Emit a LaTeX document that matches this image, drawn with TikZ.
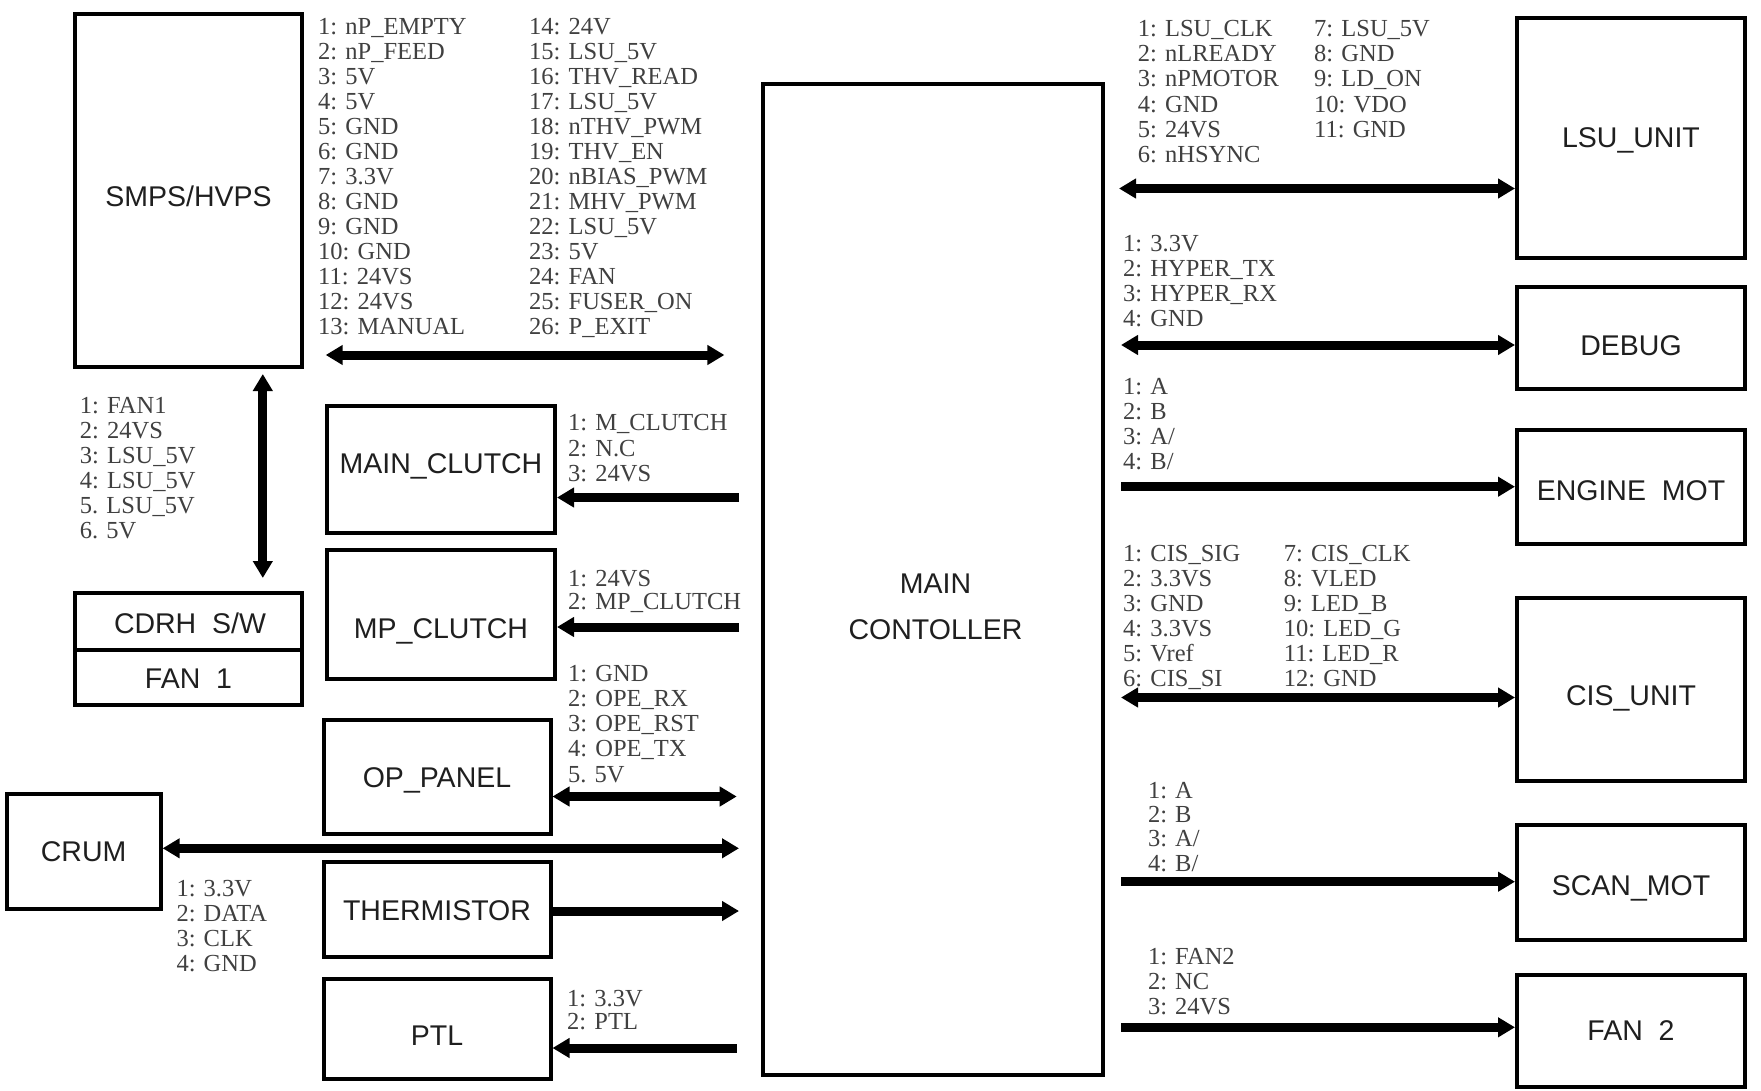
\documentclass[tikz,border=0pt]{standalone}
\usepackage{fontspec}
\setmainfont{Liberation Sans}
\newfontfamily\pinfont{Liberation Serif}
\usetikzlibrary{arrows.meta}
\tikzset{
  blk/.style={draw, line width=4pt, inner sep=0pt},
  lbl/.style={inner sep=0pt, font=\fontsize{28.5}{34}\selectfont, text=black!88, text height=20.5pt, text depth=0pt},
  pin/.style={anchor=west, inner sep=0pt, font=\pinfont\fontsize{24.5}{25}\selectfont, text=black!75, text height=16pt, text depth=0pt},
  bus/.style={line width=9pt},
  >={Triangle[length=17pt,width=19pt]},
}
\newcommand\pinlist[5]{\foreach \t [count=\i from 0] in {#5}{\node[pin] (#1\i) at (#2,{#3+#4*\i}) {\t};}}
\begin{document}
\begin{tikzpicture}[x=1pt,y=-1pt]
\fill[white] (0,0) rectangle (1761,1091);
\useasboundingbox (0,0) rectangle (1761,1091);

% ---------- boxes ----------
\node[blk, minimum width=227pt, minimum height=353pt] (smps) at (188.5,190.5) {};
\node[blk, minimum width=227pt, minimum height=57pt] (cdrh) at (188.5,621.5) {};
\node[blk, minimum width=227pt, minimum height=55pt] (fanone) at (188.5,677.5) {};
\node[blk, minimum width=228pt, minimum height=127pt] (mclutch) at (441,469.5) {};
\node[blk, minimum width=228pt, minimum height=129pt] (mpclutch) at (441,614.5) {};
\node[blk, minimum width=227pt, minimum height=114.5pt] (oppanel) at (437,776.75) {};
\node[blk, minimum width=154pt, minimum height=115.5pt] (crum) at (83.65,851.25) {};
\node[blk, minimum width=227pt, minimum height=95.5pt] (therm) at (437,909.25) {};
\node[blk, minimum width=227pt, minimum height=100.5pt] (ptl) at (437,1028.75) {};
\node[blk, minimum width=340pt, minimum height=991pt] (main) at (933,579.5) {};
\node[blk, minimum width=228pt, minimum height=240pt] (lsu) at (1631,138) {};
\node[blk, minimum width=228pt, minimum height=102pt] (debug) at (1631,338) {};
\node[blk, minimum width=228pt, minimum height=113.5pt] (engine) at (1631,486.75) {};
\node[blk, minimum width=228pt, minimum height=183pt] (cis) at (1631,689) {};
\node[blk, minimum width=228pt, minimum height=115pt] (scan) at (1631,882.5) {};
\node[blk, minimum width=228pt, minimum height=112pt] (fantwo) at (1631,1031) {};

% ---------- box labels ----------
\node[lbl] (smpsL) at (188.5,196.7) {SMPS/HVPS};
\node[lbl] (cdrhL) at (190,623.3) {CDRH\ \ S/W};
\node[lbl] (fanoneL) at (188.5,678.3) {FAN\ \ 1};
\node[lbl] (mclutchL) at (441,463) {MAIN\_CLUTCH};
\node[lbl] (mpclutchL) at (441,628) {MP\_CLUTCH};
\node[lbl] (oppanelL) at (437,777) {OP\_PANEL};
\node[lbl] (crumL) at (83.6,851.7) {CRUM};
\node[lbl] (thermL) at (437,910) {THERMISTOR};
\node[lbl] (ptlL) at (437,1035) {PTL};
\node[lbl] (mainLa) at (935.5,583) {MAIN};
\node[lbl] (mainLb) at (935.5,629) {CONTOLLER};
\node[lbl] (lsuL) at (1631,137) {LSU\_UNIT};
\node[lbl] (debugL) at (1631,345) {DEBUG};
\node[lbl] (engineL) at (1631,490) {ENGINE\ \ MOT};
\node[lbl] (cisL) at (1631,695) {CIS\_UNIT};
\node[lbl] (scanL) at (1631,885) {SCAN\_MOT};
\node[lbl] (fantwoL) at (1631,1030) {FAN\ \ 2};

% ---------- pin lists ----------
\pinlist{sa}{318}{26.7}{25}{{1: nP\_EMPTY},{2: nP\_FEED},{3: 5V},{4: 5V},{5: GND},{6: GND},{7: 3.3V},{8: GND},{9: GND},{10: GND},{11: 24VS},{12: 24VS},{13: MANUAL}}
\pinlist{sb}{529}{26.7}{25}{{14: 24V},{15: LSU\_5V},{16: THV\_READ},{17: LSU\_5V},{18: nTHV\_PWM},{19: THV\_EN},{20: nBIAS\_PWM},{21: MHV\_PWM},{22: LSU\_5V},{23: 5V},{24: FAN},{25: FUSER\_ON},{26: P\_EXIT}}
\pinlist{fa}{79.7}{405}{25}{{1: FAN1},{2: 24VS},{3: LSU\_5V},{4: LSU\_5V},{5. LSU\_5V},{6. 5V}}
\pinlist{mc}{568}{422.7}{25.3}{{1: M\_CLUTCH},{2: N.C},{3: 24VS}}
\pinlist{mp}{568}{578.3}{23.4}{{1: 24VS},{2: MP\_CLUTCH}}
\pinlist{op}{568}{673.3}{25.2}{{1: GND},{2: OPE\_RX},{3: OPE\_RST},{4: OPE\_TX},{5. 5V}}
\pinlist{cr}{176.3}{888.3}{25}{{1: 3.3V},{2: DATA},{3: CLK},{4: GND}}
\pinlist{pt}{567}{998.3}{23.4}{{1: 3.3V},{2: PTL}}
\pinlist{la}{1137.7}{28.5}{25.2}{{1: LSU\_CLK},{2: nLREADY},{3: nPMOTOR},{4: GND},{5: 24VS},{6: nHSYNC}}
\pinlist{lb}{1314}{28.5}{25.2}{{7: LSU\_5V},{8: GND},{9: LD\_ON},{10: VDO},{11: GND}}
\pinlist{db}{1123}{243.3}{25}{{1: 3.3V},{2: HYPER\_TX},{3: HYPER\_RX},{4: GND}}
\pinlist{en}{1123}{386.7}{25}{{1: A},{2: B},{3: A/},{4: B/}}
\pinlist{ca}{1123}{553.3}{25.1}{{1: CIS\_SIG},{2: 3.3VS},{3: GND},{4: 3.3VS},{5: Vref},{6: CIS\_SI}}
\pinlist{cb}{1283.7}{553.3}{25.1}{{7: CIS\_CLK},{8: VLED},{9: LED\_B},{10: LED\_G},{11: LED\_R},{12: GND}}
\pinlist{sc}{1147.8}{790}{24.4}{{1: A},{2: B},{3: A/},{4: B/}}
\pinlist{fb}{1147.8}{956.7}{25}{{1: FAN2},{2: NC},{3: 24VS}}

% ---------- free connector ends ----------
\coordinate (busL) at (325.7,355);
\coordinate (busR) at (724.4,355);
\coordinate (vtop) at (262.8,374);
\coordinate (vbot) at (262.8,578);
\coordinate (mcE) at (739,497.5);
\coordinate (mpE) at (739,627);
\coordinate (opE) at (736.7,796.5);
\coordinate (crE) at (739,848.3);
\coordinate (thE) at (739,911);
\coordinate (ptE) at (736.7,1048);
\coordinate (lsuS) at (1119,188.5);
\coordinate (dbS) at (1121,345);
\coordinate (enS) at (1121,486.7);
\coordinate (cisS) at (1121,697.5);
\coordinate (scS) at (1121,881.7);
\coordinate (fbS) at (1121,1027.3);

% ---------- connectors ----------
\draw[bus,<->] (busL) -- (busR);
\draw[bus,<->] (vtop) -- (vbot);
\draw[bus,->] (mcE) -- (mclutch.east |- mcE);
\draw[bus,->] (mpE) -- (mpclutch.east |- mpE);
\draw[bus,<->] (oppanel.east |- opE) -- (opE);
\draw[bus,<->] (crum.east |- crE) -- (crE);
\draw[bus,->] (therm.east |- thE) -- (thE);
\draw[bus,->] (ptE) -- (ptl.east |- ptE);
\draw[bus,<->] (lsuS) -- (lsu.west |- lsuS);
\draw[bus,<->] (dbS) -- (debug.west |- dbS);
\draw[bus,->] (enS) -- (engine.west |- enS);
\draw[bus,<->] (cisS) -- (cis.west |- cisS);
\draw[bus,->] (scS) -- (scan.west |- scS);
\draw[bus,->] (fbS) -- (fantwo.west |- fbS);
\end{tikzpicture}
\end{document}
